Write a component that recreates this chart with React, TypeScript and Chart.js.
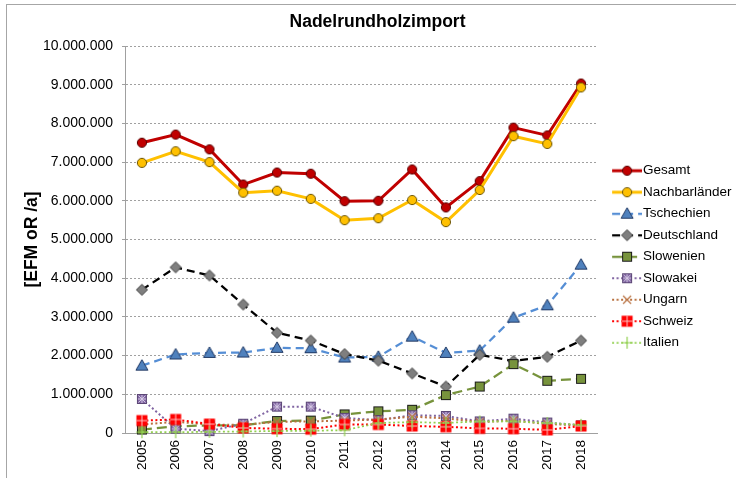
import React, { useEffect, useRef } from 'react';
import { Chart, registerables } from 'chart.js';

Chart.register(...registerables);

// ---------- data ----------
const years = ['2005', '2006', '2007', '2008', '2009', '2010', '2011', '2012', '2013', '2014', '2015', '2016', '2017', '2018'];

const gesamt = [7500000, 7710000, 7330000, 6420000, 6730000, 6700000, 5990000, 6000000, 6810000, 5830000, 6510000, 7890000, 7690000, 9030000];
const nachbarlaender = [6980000, 7280000, 7000000, 6210000, 6260000, 6050000, 5500000, 5550000, 6020000, 5450000, 6280000, 7670000, 7470000, 8930000];
const tschechien = [1740000, 2030000, 2070000, 2080000, 2200000, 2190000, 1950000, 1970000, 2490000, 2070000, 2130000, 2980000, 3300000, 4350000];
const deutschland = [3700000, 4280000, 4070000, 3320000, 2590000, 2390000, 2040000, 1870000, 1540000, 1200000, 2020000, 1860000, 1970000, 2390000];
const slowenien = [90000, 170000, 200000, 200000, 310000, 320000, 480000, 560000, 600000, 980000, 1200000, 1780000, 1350000, 1400000];
const slowakei = [880000, 110000, 50000, 240000, 680000, 680000, 390000, 330000, 460000, 440000, 300000, 370000, 270000, 200000];
const ungarn = [220000, 290000, 220000, 210000, 290000, 300000, 320000, 350000, 420000, 380000, 280000, 320000, 230000, 200000];
const schweiz = [320000, 350000, 230000, 130000, 110000, 100000, 220000, 220000, 180000, 160000, 120000, 110000, 80000, 180000];
const italien = [20000, 20000, 30000, 40000, 50000, 60000, 70000, 260000, 280000, 260000, 300000, 300000, 260000, 210000];

const seriesNames = ['Gesamt', 'Nachbarländer', 'Tschechien', 'Deutschland', 'Slowenien', 'Slowakei', 'Ungarn', 'Schweiz', 'Italien'];
const seriesValues = [gesamt, nachbarlaender, tschechien, deutschland, slowenien, slowakei, ungarn, schweiz, italien];

const yTickMax = 10000000;
const yTickStep = 1000000;
const chartTitle = 'Nadelrundholzimport';
const yAxisTitle = '[EFM oR /a]';

// ---------- styles ----------
type Shape = 'circle' | 'triangle' | 'diamond' | 'square' | 'starSquare' | 'xcross' | 'plusSquare' | 'plus';
interface SeriesStyle {
  line: string;
  width: number;
  dash: number[];
  shape: Shape;
  fill: string;
  stroke: string;
}

const styles: SeriesStyle[] = [
  { line: '#C00000', width: 3, dash: [], shape: 'circle', fill: '#C00000', stroke: '#5a0000' },
  { line: '#FFC000', width: 3, dash: [], shape: 'circle', fill: '#FFC000', stroke: '#6b5300' },
  { line: '#558ED5', width: 2.25, dash: [8, 5], shape: 'triangle', fill: '#4F81BD', stroke: '#1F3864' },
  { line: '#000000', width: 2.25, dash: [8, 5], shape: 'diamond', fill: '#7F7F7F', stroke: '#404040' },
  { line: '#77933C', width: 2.25, dash: [10, 5], shape: 'square', fill: '#77933C', stroke: '#1a1a1a' },
  { line: '#8064A2', width: 2, dash: [2, 2.5], shape: 'starSquare', fill: '#8064A2', stroke: '#5C4776' },
  { line: '#B8703F', width: 2, dash: [2, 2.5], shape: 'xcross', fill: '#B8703F', stroke: '#B8703F' },
  { line: '#FF0000', width: 2, dash: [2, 2.5], shape: 'plusSquare', fill: '#FF0000', stroke: '#FF0000' },
  { line: '#92D050', width: 1.75, dash: [2, 2.5], shape: 'plus', fill: '#92D050', stroke: '#92D050' },
];

const FONT = "'Liberation Sans', Arial, sans-serif";

function drawMarker(ctx: CanvasRenderingContext2D, s: SeriesStyle, cx: number, cy: number) {
  ctx.save();
  ctx.setLineDash([]);
  ctx.lineWidth = 1;
  ctx.fillStyle = s.fill;
  ctx.strokeStyle = s.stroke;
  switch (s.shape) {
    case 'circle':
      ctx.beginPath();
      ctx.arc(cx, cy, 4.6, 0, Math.PI * 2);
      ctx.fill();
      ctx.stroke();
      break;
    case 'triangle':
      ctx.beginPath();
      ctx.moveTo(cx, cy - 6);
      ctx.lineTo(cx + 6, cy + 4.5);
      ctx.lineTo(cx - 6, cy + 4.5);
      ctx.closePath();
      ctx.fill();
      ctx.stroke();
      break;
    case 'diamond':
      ctx.beginPath();
      ctx.moveTo(cx, cy - 5.5);
      ctx.lineTo(cx + 5.5, cy);
      ctx.lineTo(cx, cy + 5.5);
      ctx.lineTo(cx - 5.5, cy);
      ctx.closePath();
      ctx.fill();
      ctx.stroke();
      break;
    case 'square':
      ctx.fillRect(cx - 5, cy - 5, 10, 10);
      ctx.strokeRect(cx - 4.5, cy - 4.5, 9, 9);
      break;
    case 'starSquare':
      ctx.fillRect(cx - 5, cy - 5, 10, 10);
      ctx.strokeRect(cx - 4.5, cy - 4.5, 9, 9);
      ctx.strokeStyle = '#D8CDE6';
      ctx.beginPath();
      ctx.moveTo(cx - 3.5, cy - 3.5); ctx.lineTo(cx + 3.5, cy + 3.5);
      ctx.moveTo(cx + 3.5, cy - 3.5); ctx.lineTo(cx - 3.5, cy + 3.5);
      ctx.moveTo(cx, cy - 4); ctx.lineTo(cx, cy + 4);
      ctx.moveTo(cx - 4, cy); ctx.lineTo(cx + 4, cy);
      ctx.stroke();
      break;
    case 'xcross':
      ctx.lineWidth = 1.2;
      ctx.beginPath();
      ctx.moveTo(cx - 4, cy - 4); ctx.lineTo(cx + 4, cy + 4);
      ctx.moveTo(cx + 4, cy - 4); ctx.lineTo(cx - 4, cy + 4);
      ctx.stroke();
      break;
    case 'plusSquare':
      ctx.fillRect(cx - 5.5, cy - 5.5, 11, 11);
      ctx.strokeStyle = '#FFC8C8';
      ctx.beginPath();
      ctx.moveTo(cx, cy - 5.5); ctx.lineTo(cx, cy + 5.5);
      ctx.moveTo(cx - 5.5, cy); ctx.lineTo(cx + 5.5, cy);
      ctx.stroke();
      break;
    case 'plus':
      ctx.lineWidth = 1.2;
      ctx.beginPath();
      ctx.moveTo(cx, cy - 6); ctx.lineTo(cx, cy + 6);
      ctx.moveTo(cx - 6, cy); ctx.lineTo(cx + 6, cy);
      ctx.stroke();
      break;
  }
  ctx.restore();
}

function makeMarkerImage(s: SeriesStyle): HTMLCanvasElement {
  const c = document.createElement('canvas');
  c.width = 16;
  c.height = 16;
  const ctx = c.getContext('2d')!;
  drawMarker(ctx, s, 8, 8);
  return c;
}

// legend symbol: line with marker in the middle
function makeLegendImage(s: SeriesStyle): HTMLCanvasElement {
  const c = document.createElement('canvas');
  c.width = 42;
  c.height = 16;
  const ctx = c.getContext('2d')!;
  ctx.strokeStyle = s.line;
  ctx.lineWidth = s.width;
  ctx.setLineDash(s.dash);
  ctx.beginPath();
  ctx.moveTo(12, 8);
  ctx.lineTo(42, 8);
  ctx.stroke();
  drawMarker(ctx, s, 27, 8);
  return c;
}

const fmt = (v: number) => String(Math.round(v)).replace(/\B(?=(\d{3})+(?!\d))/g, '.');

export default function App() {
  const ref = useRef<HTMLCanvasElement | null>(null);

  useEffect(() => {
    if (!ref.current) return;
    const markerImgs = styles.map(makeMarkerImage);
    const legendImgs = styles.map(makeLegendImage);

    const datasets = seriesNames.map((name, i) => ({
      label: name,
      data: seriesValues[i],
      borderColor: styles[i].line,
      backgroundColor: styles[i].fill,
      borderWidth: styles[i].width,
      borderDash: styles[i].dash,
      pointStyle: markerImgs[i],
      pointRadius: 5,
      pointHoverRadius: 5,
      tension: 0,
      fill: false,
      clip: false as const,
      order: -i,
    }));

    const chart = new Chart(ref.current, {
      type: 'line',
      data: { labels: years, datasets },
      options: {
        responsive: false,
        animation: false,
        devicePixelRatio: 1,
        layout: { padding: { left: 13.5, right: -5.5, top: 0, bottom: 0 } },
        plugins: {
          tooltip: { enabled: false },
          title: {
            display: true,
            text: chartTitle,
            color: '#000',
            font: { family: FONT, size: 17.5, weight: 'bold' },
            padding: { top: 11.5, bottom: 13.5 },
          },
          legend: {
            position: 'right',
            align: 'center',
            title: { display: true, text: '', font: { size: 12 }, padding: { top: 21, bottom: 0 } },
            labels: {
              color: '#000',
              font: { family: FONT, size: 13.5 },
              padding: 8,
              usePointStyle: true,
              pointStyleWidth: 30.25,
              sort: (a: any, b: any) => a.datasetIndex - b.datasetIndex,
              generateLabels: (c: any) => {
                const items = Chart.defaults.plugins.legend.labels.generateLabels(c);
                return items.map((it: any) => ({ ...it, pointStyle: legendImgs[it.datasetIndex] }));
              },
            },
          },
        },
        scales: {
          x: {
            type: 'category',
            offset: true,
            grid: { display: false, drawTicks: false },
            border: { display: true, color: '#a0a0a0', width: 1 },
            ticks: {
              minRotation: 90,
              maxRotation: 90,
              padding: 7,
              color: '#000',
              font: { family: FONT, size: 13.5 },
            },
            afterFit: (s: any) => { s.height = 45; },
          },
          y: {
            type: 'linear',
            min: 0,
            max: yTickMax,
            ticks: {
              stepSize: yTickStep,
              padding: 9,
              color: '#000',
              font: { family: FONT, size: 14 },
              callback: (v: any) => fmt(Number(v)),
            },
            grid: {
              color: '#a0a0a0',
              lineWidth: 1,
              drawTicks: true,
              tickLength: 3,
              tickColor: '#a0a0a0',
              tickBorderDash: [],
            },
            border: { display: true, color: '#a0a0a0', width: 1, dash: [2, 2] },
            title: {
              display: true,
              text: yAxisTitle,
              color: '#000',
              font: { family: FONT, size: 17.5, weight: 'bold' },
              padding: { top: 8.5, bottom: 4 },
            },
            afterFit: (s: any) => { s.width = 111.5; },
          },
        },
      } as any,
    });
    return () => chart.destroy();
  }, []);

  return (
    <div style={{ position: 'fixed', left: 0, top: 0, width: 736, height: 478, background: '#fff', overflow: 'hidden' }}>
      <div
        style={{
          position: 'absolute',
          left: 6,
          top: 4,
          width: 800,
          height: 600,
          borderLeft: '1px solid #a6a6a6',
          borderTop: '1px solid #a6a6a6',
        }}
      />
      <canvas ref={ref} width={736} height={478} style={{ position: 'absolute', left: 0, top: 0 }} />
    </div>
  );
}
